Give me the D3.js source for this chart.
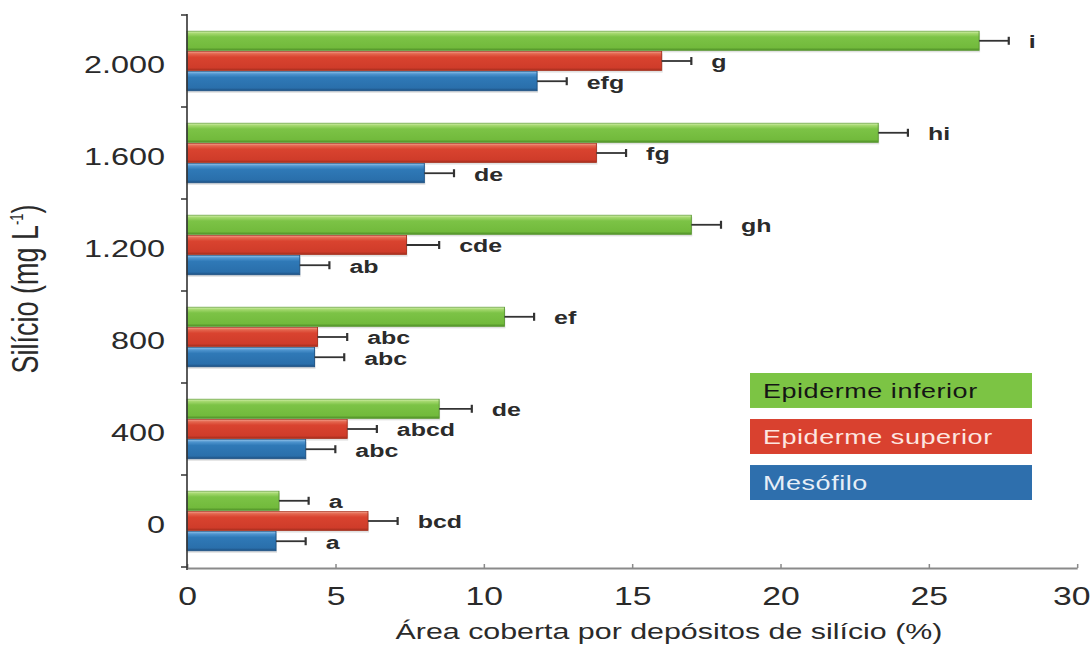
<!DOCTYPE html>
<html>
<head>
<meta charset="utf-8">
<script src="https://cdn.jsdelivr.net/npm/d3@7"></script>
<style>
  html, body { margin: 0; padding: 0; background: #fff; }
  svg { display: block; }
  text { font-family: "Liberation Sans", Arial, sans-serif; }
</style>
</head>
<body>
<svg id="chart" width="1091" height="660"></svg>
<script>
// Silicon concentration levels (top to bottom)
const categories = ["2.000", "1.600", "1.200", "800", "400", "0"];

// Series
const seriesKeys = ["inferior", "superior", "mesofilo"];
const seriesNames = ["Epiderme inferior", "Epiderme superior", "Mesófilo"];

// Area covered by silicon deposits (%)
const inferiorValues = [26.7, 23.3, 17.0, 10.7, 8.5, 3.1];
const superiorValues = [16.0, 13.8, 7.4, 4.4, 5.4, 6.1];
const mesofiloValues = [11.8, 8.0, 3.8, 4.3, 4.0, 3.0];

// Standard errors
const inferiorErrors = [1.0, 1.0, 1.0, 1.0, 1.1, 1.0];
const superiorErrors = [1.0, 1.0, 1.1, 1.0, 1.0, 1.0];
const mesofiloErrors = [1.0, 1.0, 1.0, 1.0, 1.0, 1.0];

// Mean comparison letters
const inferiorLetters = ["i", "hi", "gh", "ef", "de", "a"];
const superiorLetters = ["g", "fg", "cde", "abc", "abcd", "bcd"];
const mesofiloLetters = ["efg", "de", "ab", "abc", "abc", "a"];

const xTicks = [0, 5, 10, 15, 20, 25, 30];

const seriesValues = { inferior: inferiorValues, superior: superiorValues, mesofilo: mesofiloValues };
const seriesErrors = { inferior: inferiorErrors, superior: superiorErrors, mesofilo: mesofiloErrors };
const seriesLetters = { inferior: inferiorLetters, superior: superiorLetters, mesofilo: mesofiloLetters };

// The figure is drawn in a horizontally widened frame
const SX = 1.35;
const svg = d3.select("#chart");
const root = svg.append("g").attr("transform", `scale(${SX},1)`);

const x = d3.scaleLinear().domain([0, 30]).range([187 / SX, 1077 / SX]);
const y0 = d3.scaleBand().domain(categories).range([15, 567]);
const y1 = d3.scaleBand().domain(seriesKeys).range([0, y0.bandwidth()])
  .paddingInner(0.05).paddingOuter(0.8);

// gradients for the glossy bars
const palette = {
  inferior: ["#d8f1b4", "#a4d86e", "#7cc346", "#72ba3c", "#4e8e27"],
  superior: ["#f2a592", "#e4674f", "#d9432f", "#cf3c2a", "#a02c1c"],
  mesofilo: ["#93c2e8", "#4f95cf", "#2f79b7", "#2a6fab", "#1c4e7e"]
};
const defs = svg.append("defs");
seriesKeys.forEach(k => {
  const g = defs.append("linearGradient").attr("id", "grad-" + k)
    .attr("x1", 0).attr("y1", 0).attr("x2", 0).attr("y2", 1);
  [0, 0.12, 0.3, 0.85, 1].forEach((o, i) =>
    g.append("stop").attr("offset", o).attr("stop-color", palette[k][i]));
});
const stroke = { inferior: "#5c9a33", superior: "#a8321f", mesofilo: "#1f5588" };

// rows of data
const rows = [];
categories.forEach((c, i) => {
  seriesKeys.forEach(k => {
    rows.push({ cat: c, key: k, value: seriesValues[k][i], err: seriesErrors[k][i], letter: seriesLetters[k][i] });
  });
});

// bar shadows
root.append("g").selectAll("rect").data(rows).join("rect")
  .attr("x", x(0))
  .attr("y", d => y0(d.cat) + y1(d.key) + 2)
  .attr("width", d => x(d.value) - x(0) + 1 / SX)
  .attr("height", y1.bandwidth())
  .attr("fill", "#000").attr("opacity", 0.12);

// bars
root.append("g").selectAll("rect").data(rows).join("rect")
  .attr("x", x(0))
  .attr("y", d => y0(d.cat) + y1(d.key))
  .attr("width", d => x(d.value) - x(0))
  .attr("height", y1.bandwidth())
  .attr("fill", d => `url(#grad-${d.key})`)
  .attr("stroke", d => stroke[d.key])
  .attr("stroke-width", 0.7);

// error bars
const eb = root.append("g").attr("stroke", "#333");
eb.selectAll("line.h").data(rows).join("line").attr("class", "h")
  .attr("x1", d => x(d.value)).attr("x2", d => x(d.value + d.err))
  .attr("y1", d => y0(d.cat) + y1(d.key) + y1.bandwidth() / 2)
  .attr("y2", d => y0(d.cat) + y1(d.key) + y1.bandwidth() / 2)
  .attr("stroke-width", 1.8);
eb.selectAll("line.c").data(rows).join("line").attr("class", "c")
  .attr("x1", d => x(d.value + d.err)).attr("x2", d => x(d.value + d.err))
  .attr("y1", d => y0(d.cat) + y1(d.key) + y1.bandwidth() / 2 - 4)
  .attr("y2", d => y0(d.cat) + y1(d.key) + y1.bandwidth() / 2 + 4)
  .attr("stroke-width", 2.2 / SX);

// letters
root.append("g").selectAll("text").data(rows).join("text")
  .attr("x", d => x(d.value + d.err) + 20 / SX)
  .attr("y", d => y0(d.cat) + y1(d.key) + y1.bandwidth() / 2)
  .attr("dy", "0.4em")
  .attr("font-size", 18.5).attr("font-weight", "bold").attr("fill", "#2b2b2b")
  .text(d => d.letter);

// x axis
const xAxis = root.append("g").attr("transform", `translate(0,${y0.range()[1] + 1})`)
  .call(d3.axisBottom(x).tickValues(xTicks).tickSizeInner(-4).tickSizeOuter(0).tickPadding(19));
xAxis.select(".domain").attr("stroke", "#8a8a8a").attr("stroke-width", 2);
xAxis.selectAll(".tick line").attr("stroke", "#8a8a8a").attr("stroke-width", 1.5 / SX);
xAxis.selectAll(".tick text").attr("font-size", 25).attr("fill", "#2a2a2a")
  .attr("font-family", "Liberation Sans, Arial, sans-serif")
  .attr("dx", d => d === xTicks[xTicks.length - 1] ? -6 / SX : 0);

// y axis: labels at group centres, ticks at group boundaries
const yAxis = root.append("g").attr("transform", `translate(${x(0)},0)`)
  .call(d3.axisLeft(y0).tickSize(0).tickPadding(22 / SX));
yAxis.select(".domain").remove();
yAxis.selectAll(".tick text").attr("font-size", 24).attr("fill", "#2a2a2a")
  .attr("dy", "0.5em")
  .attr("font-family", "Liberation Sans, Arial, sans-serif");

const boundaries = categories.map(c => y0(c)).concat([y0.range()[1]]);
root.append("g").selectAll("line").data(boundaries).join("line")
  .attr("x1", x(0) - 6 / SX).attr("x2", x(0))
  .attr("y1", d => d).attr("y2", d => d)
  .attr("stroke", "#333").attr("stroke-width", 1.5);
root.append("line")
  .attr("x1", x(0)).attr("x2", x(0))
  .attr("y1", y0.range()[0] - 1).attr("y2", y0.range()[1] + 3)
  .attr("stroke", "#333").attr("stroke-width", 1.6 / SX);

// axis titles
root.append("text")
  .attr("x", 669 / SX).attr("y", 639)
  .attr("text-anchor", "middle").attr("font-size", 22.5).attr("fill", "#2a2a2a")
  .text("Área coberta por depósitos de silício (%)");

const yTitle = root.append("text")
  .attr("transform", `translate(${38 / SX},289) rotate(-90)`)
  .attr("text-anchor", "middle").attr("font-size", 27).attr("fill", "#2a2a2a");
yTitle.append("tspan").text("Silício (mg L");
yTitle.append("tspan").attr("font-size", 13).attr("dy", -11).text("-1");
yTitle.append("tspan").attr("dy", 11).text(")");

// legend
const legendFill = { inferior: "#7cc444", superior: "#d9412f", mesofilo: "#2e6fad" };
const legendText = { inferior: "#151515", superior: "#fde6e0", mesofilo: "#e6eef7" };
const legend = root.append("g");
const ly = d3.scaleBand().domain(seriesKeys).range([373, 500]).paddingInner(0.24);
seriesKeys.forEach((k, i) => {
  legend.append("rect")
    .attr("x", 750 / SX).attr("y", ly(k))
    .attr("width", (1032 - 750) / SX).attr("height", ly.bandwidth())
    .attr("fill", legendFill[k]);
  legend.append("text")
    .attr("x", 763 / SX).attr("y", ly(k) + ly.bandwidth() / 2)
    .attr("dy", "0.36em")
    .attr("font-family", "Lato, 'Open Sans', sans-serif")
    .attr("font-size", 20).attr("letter-spacing", 0.4)
    .attr("fill", legendText[k])
    .text(seriesNames[i]);
});
</script>
</body>
</html>
